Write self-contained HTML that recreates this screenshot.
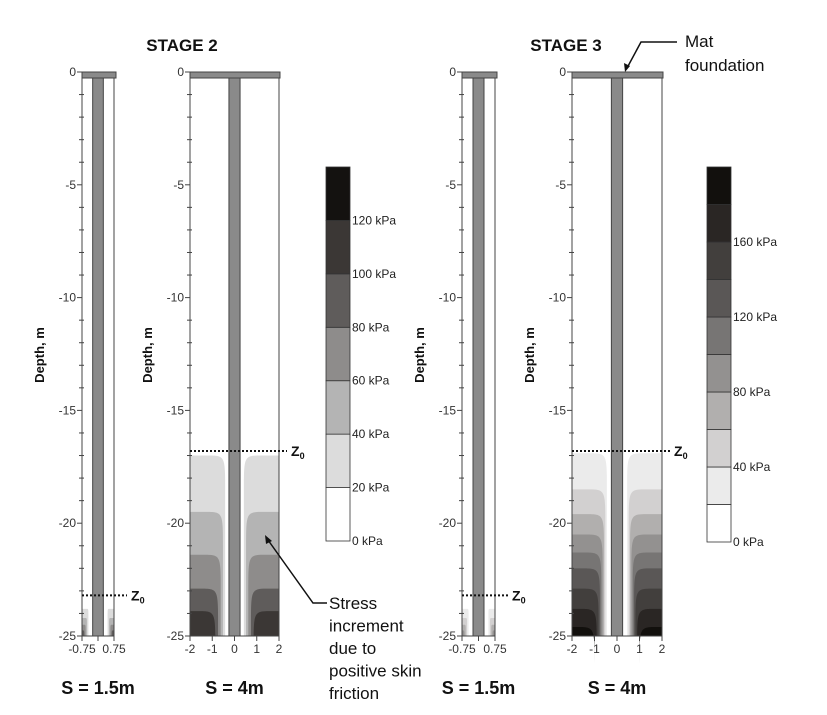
<!DOCTYPE html>
<html><head><meta charset="utf-8"><style>
body{margin:0;background:#fff}
svg{display:block;font-family:"Liberation Sans",Arial,sans-serif}
</style></head><body>
<svg id="fig" width="827" height="715" viewBox="0 0 827 715"></svg>
<script>
// ---- data ----
const depthTicks = [0,-5,-10,-15,-20,-25];
const xTicksNarrow = [-0.75,0,0.75];
const xTickLabelsNarrow = ["-0.75","","0.75"];
const xTicksWide = [-2,-1,0,1,2];
const legend1Values = [0,20,40,60,80,100,120,140];
const legend1Labels = ["0 kPa","20 kPa","40 kPa","60 kPa","80 kPa","100 kPa","120 kPa",""];
const legend1Colors = ["#ffffff","#dcdcdc","#b4b4b4","#8e8c8b","#5f5c5b","#3b3735","#141210"];
const legend2Values = [0,20,40,60,80,100,120,140,160,180,200];
const legend2Labels = ["0 kPa","","40 kPa","","80 kPa","","120 kPa","","160 kPa","",""];
const legend2Colors = ["#ffffff","#ebebeb","#d2d0d0","#b1afae","#939190","#777574","#5a5756","#423f3d","#2a2624","#12100d"];
// contour band tops (depth, m) and inner offset from pile axis (m)
const s2wideTops = [-17.0,-19.5,-21.4,-22.9,-23.9];
const s2wideInner = [0.42,0.52,0.62,0.74,0.86];
const s2narrowTops = [-23.8,-24.2,-24.5,-24.75];
const s2narrowInner = [0.45,0.52,0.58,0.64];
const s3wideTops = [-16.9,-18.5,-19.6,-20.5,-21.3,-22.0,-22.9,-23.8,-24.6];
const s3wideInner = [0.45,0.52,0.58,0.64,0.7,0.76,0.82,0.9,1.0];
const s3narrowTops = [-23.8,-24.2,-24.5,-24.75];
const s3narrowInner = [0.45,0.52,0.58,0.64];
const z0Stage2 = [-23.2,-16.8];
const z0Stage3 = [-23.2,-16.8];

const svg = document.getElementById('fig');
const NS = 'http://www.w3.org/2000/svg';
function mk(tag, attrs, parent, name, text){
  const e = document.createElementNS(NS, tag);
  for (const k in attrs) e.setAttribute(k, attrs[k]);
  
  
  if (text !== undefined) e.textContent = text;
  (parent||svg).appendChild(e);
  return e;
}
const Y0 = 72, Y25 = 636;
function ys(d){ return Y0 + (d/-25)*(Y25-Y0); }

function panel(id, xl, xr, half, tops, inner, colors, z0, xticks, xlabels, labelX, sLabel){
  const g = mk('g', {}, svg, id);
  const xs = v => xl + (v+half)/(2*half)*(xr-xl);
  const rx = half>1 ? 0.8 : 0.08, ry = half>1 ? 1.6 : 0.35;
  for (let i=0;i<tops.length;i++){
    const t = tops[i], inn = inner[i], c = colors[i+1];
    [-1,1].forEach(sd=>{
      const xo = xs(sd*half), xi = xs(sd*inn), xc = xs(sd*Math.min(inn+rx, half));
      const d = `M${xo},${ys(t)} L${xc},${ys(t)} C${xi},${ys(t)} ${xi},${ys(t)} ${xi},${ys(t-ry)} L${xi},${ys(-25)} L${xo},${ys(-25)} Z`;
      mk('path', {d, fill:c}, g, 'contour-band');
    });
  }
  mk('line',{x1:xr,y1:Y0,x2:xr,y2:Y25,stroke:'#444','stroke-width':1},g,'plot-right-border');
  mk('line',{x1:xl,y1:Y0,x2:xl,y2:Y25,stroke:'#444','stroke-width':1},g,'y-axis-line');
  mk('line',{x1:xl,y1:Y25,x2:xr,y2:Y25,stroke:'#444','stroke-width':1},g,'x-axis-line');
  mk('rect',{x:xs(-0.25),y:Y0+6,width:xs(0.25)-xs(-0.25),height:Y25-Y0-6,fill:'#8a8a8a',stroke:'#444','stroke-width':1},g,'pile');
  mk('rect',{x:xl,y:Y0,width:xr-xl+(half>1?1:2),height:6,fill:'#8a8a8a',stroke:'#444','stroke-width':1},g,'mat-foundation');
  for (let d=0; d>=-25; d--){
    const major = d%5===0;
    mk('line',{x1:xl-(major?5:3),y1:ys(d),x2:xl+(major?0:2),y2:ys(d),stroke:'#444','stroke-width':1},g,'y-tick');
  }
  depthTicks.forEach(d=>{
    mk('text',{x:xl-6,y:ys(d)+4,'font-size':12,'text-anchor':'end',fill:'#333'},g,'y-tick-label',String(d));
  });
  xticks.forEach((v,i)=>{
    mk('line',{x1:xs(v),y1:Y25,x2:xs(v),y2:Y25+5,stroke:'#444'},g,'x-tick');
    if (xlabels[i]!=='') mk('text',{x:xs(v),y:Y25+17,'font-size':12,'text-anchor':'middle',fill:'#333'},g,'x-tick-label',xlabels[i]);
  });
  const zx2 = xr + (half>1?8:13);
  mk('line',{x1:xl,y1:ys(z0),x2:zx2,y2:ys(z0),stroke:'#111','stroke-width':2,'stroke-dasharray':'2,2'},g,'z0-line');
  const zt = mk('text',{x:zx2+4,y:ys(z0)+5,'font-size':14,'font-weight':'bold',fill:'#111'},g,'z0-label','Z');
  mk('tspan',{'font-size':9,dy:3},zt,'z0-subscript','0');
  const yc = 355;
  mk('text',{x:labelX,y:yc,'font-size':13,'font-weight':'bold','text-anchor':'middle',transform:`rotate(-90 ${labelX} ${yc})`,fill:'#111'},g,'y-axis-title','Depth, m');
  mk('text',{x:(xl+xr)/2,y:694,'font-size':18,'font-weight':'bold','text-anchor':'middle',fill:'#111'},g,'spacing-label',sLabel);
}

function legend(id, x, values, labels, colors, edges){
  const g = mk('g',{},svg,id);
  for (let i=0;i<colors.length;i++){
    const y1 = edges[i], y2 = edges[i+1];
    mk('rect',{x, y:y2, width:24, height:y1-y2, fill:colors[i], stroke:'#333','stroke-width':0.8},g,'legend-band');
  }
  values.forEach((v,i)=>{
    if (labels[i]) mk('text',{x:x+26,y:edges[i]+4,'font-size':12,fill:'#222'},g,'legend-label',labels[i]);
  });
}

panel('panel-stage2-s1.5', 82, 114, 0.75, s2narrowTops, s2narrowInner, legend1Colors, z0Stage2[0], xTicksNarrow, xTickLabelsNarrow, 44, 'S = 1.5m');
panel('panel-stage2-s4', 190, 279, 2, s2wideTops, s2wideInner, legend1Colors, z0Stage2[1], xTicksWide, xTicksWide.map(String), 152, 'S = 4m');
panel('panel-stage3-s1.5', 462, 495, 0.75, s3narrowTops, s3narrowInner, legend2Colors, z0Stage3[0], xTicksNarrow, xTickLabelsNarrow, 424, 'S = 1.5m');
panel('panel-stage3-s4', 572, 662, 2, s3wideTops, s3wideInner, legend2Colors, z0Stage3[1], xTicksWide, xTicksWide.map(String), 534, 'S = 4m');

// legend band edges from a linear value->pixel scale
function legendScale(vmin, vmax, yb, yt){ return v => yb - (v-vmin)/(vmax-vmin)*(yb-yt); }
const l1 = legendScale(0, 140, 541, 167);
const l2 = legendScale(0, 200, 542, 167);
legend('legend-stage2', 326, legend1Values, legend1Labels, legend1Colors, legend1Values.map(l1));
legend('legend-stage3', 707, legend2Values, legend2Labels, legend2Colors, legend2Values.map(l2));

mk('text',{x:182,y:51,'font-size':17,'font-weight':'bold','text-anchor':'middle',fill:'#111'},svg,'stage2-title','STAGE 2');
mk('text',{x:566,y:51,'font-size':17,'font-weight':'bold','text-anchor':'middle',fill:'#111'},svg,'stage3-title','STAGE 3');
mk('text',{x:685,y:47,'font-size':17,fill:'#111'},svg,'mat-annotation-line1','Mat');
mk('text',{x:685,y:71,'font-size':17,fill:'#111'},svg,'mat-annotation-line2','foundation');
mk('path',{d:'M677,42 L641,42 L627,68',fill:'none',stroke:'#111','stroke-width':1.5},svg,'mat-arrow-line');
mk('path',{d:'M625,72 L624,63 L630,66 Z',fill:'#111'},svg,'mat-arrowhead');
['Stress','increment','due to','positive skin','friction'].forEach((t,i)=>{
  mk('text',{x:329,y:609+i*22.5,'font-size':17,fill:'#111'},svg,'stress-annotation-line',t);
});
mk('path',{d:'M327,603 L313,603 L268,540',fill:'none',stroke:'#111','stroke-width':1.5},svg,'stress-arrow-line');
mk('path',{d:'M265,535 L272,541 L266,544 Z',fill:'#111'},svg,'stress-arrowhead');
</script>
</body></html>
